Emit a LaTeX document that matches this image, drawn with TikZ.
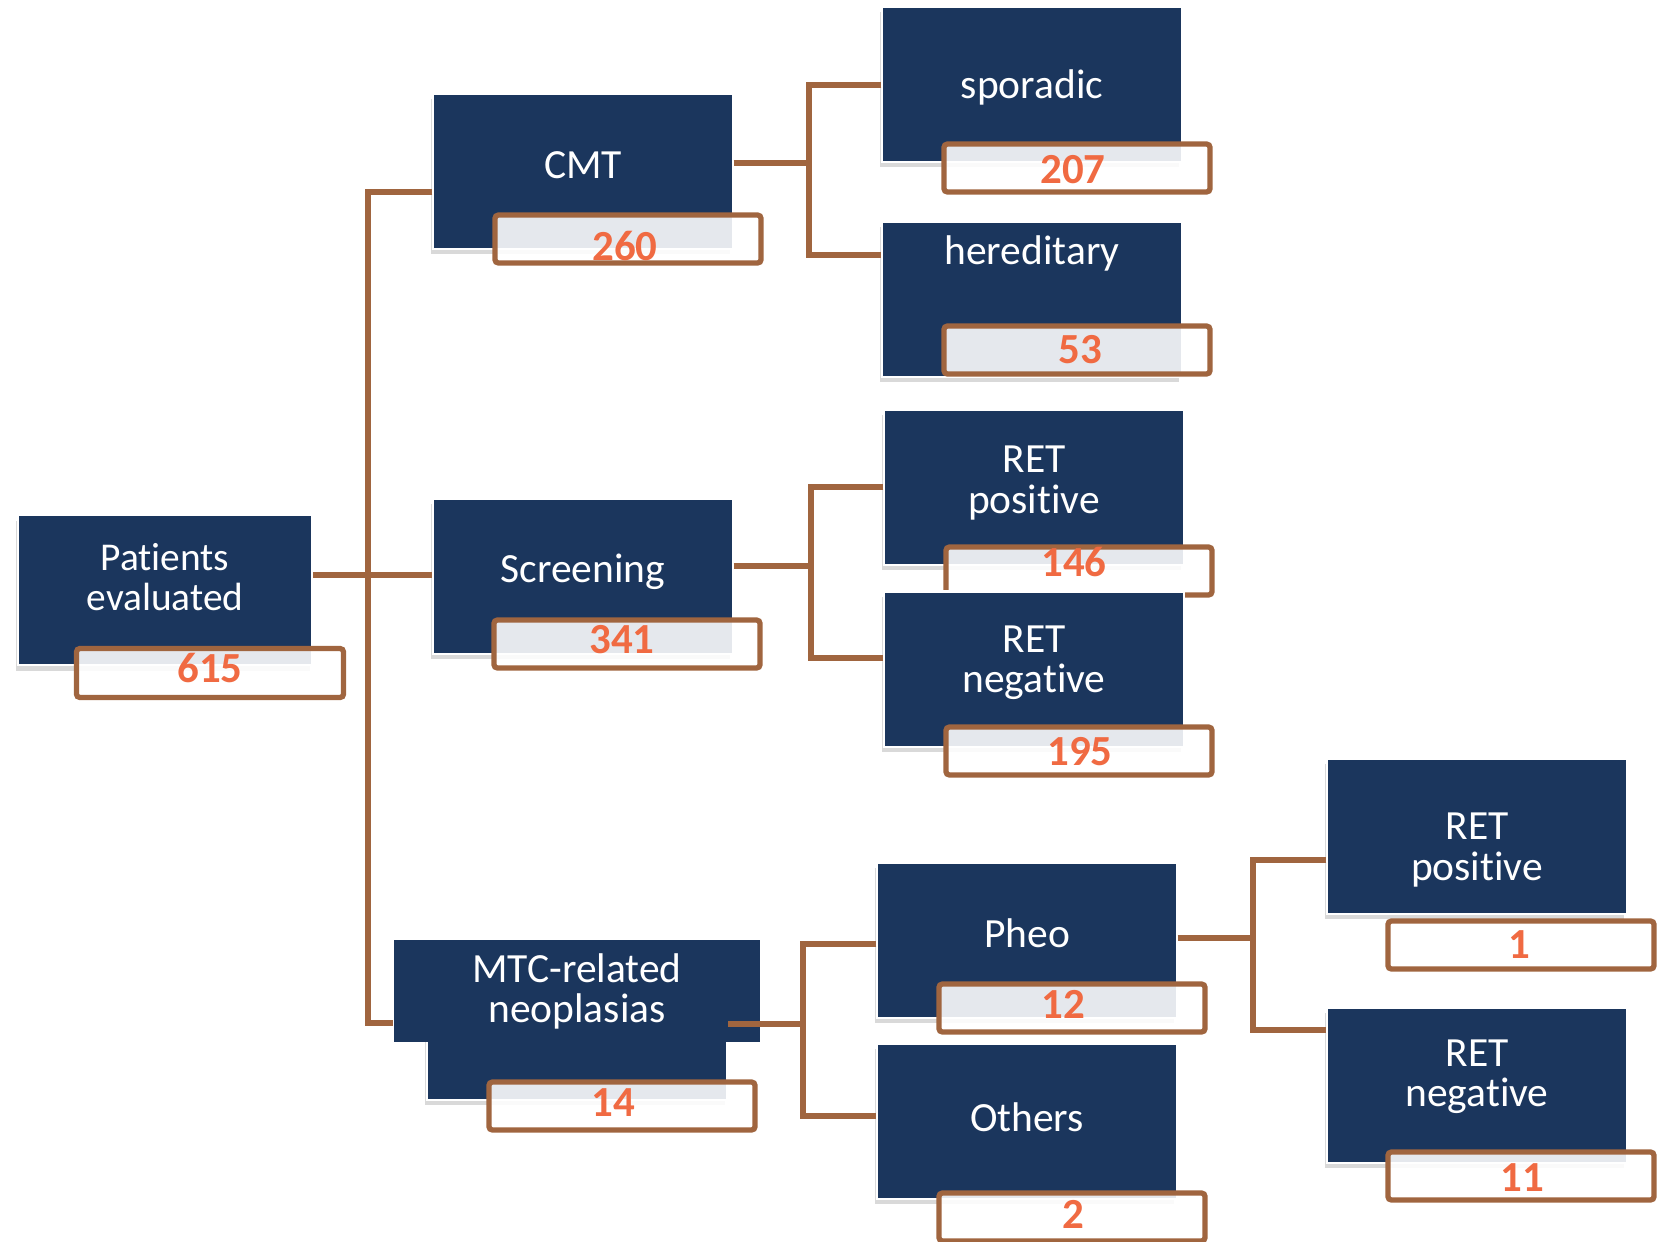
\documentclass[tikz,border=0pt]{standalone}
\usepackage{fontspec}
\setmainfont[Ligatures=NoCommon]{Carlito}
\usetikzlibrary{shadows}
\definecolor{navy}{RGB}{27,54,93}
\definecolor{rust}{RGB}{160,101,63}
\definecolor{coral}{RGB}{240,106,66}
\tikzset{
  panel/.style={draw=white,line width=0.6pt,fill=navy,inner sep=0pt,
    minimum width=2.99cm,minimum height=1.55cm,
    drop shadow={shadow xshift=-0.6pt,shadow yshift=-1.6pt,opacity=0.3}},
  slab/.style={fill=navy,inner sep=0pt,minimum width=3.66cm,minimum height=1.01cm},
  caption/.style={text=white,align=center,font=\fontsize{11.8}{11.4}\selectfont},
  tally/.style={draw=rust,line width=1.5pt,fill=white,fill opacity=0.89,
    rounded corners=1pt,inner sep=0pt,minimum width=2.66cm,minimum height=0.48cm},
  digits/.style={text=coral,inner sep=0pt,font=\fontsize{12.2}{12}\selectfont\bfseries},
  wire/.style={draw=rust,line width=1.6pt},
}
\begin{document}
\begin{tikzpicture}[x=0.01cm,y=-0.01cm]
  \useasboundingbox (0,0) rectangle (1662,1241);
  % first level
  \node[panel,minimum width=2.94cm,minimum height=1.5cm] (pat) at (165,590) {};
  \node[caption,font=\fontsize{11.2}{11.4}\selectfont] (pat-t) at (165,577) {Patients\\evaluated};
  \node[tally,minimum width=2.67cm,minimum height=0.49cm] (pat-n) at (210,673) {};
  \node[digits] (pat-v) at (210,668) {615};
  % second level
  \node[panel] (cmt) at (583,171) {};
  \node[caption] (cmt-t) at (583,165) {CMT};
  \node[tally] (cmt-n) at (628,239) {};
  \node[digits] (cmt-v) at (625,246) {260};
  \node[panel] (scr) at (583,576) {};
  \node[caption] (scr-t) at (583,572) {Screening};
  \node[tally] (scr-n) at (627,644) {};
  \node[digits] (scr-v) at (622,640) {341};
  \node[panel,minimum width=3cm,minimum height=1.59cm] (mtc) at (577,1020) {};
  \node[slab,caption] (mtc-t) at (577,991) {MTC-related\\neoplasias};
  \node[tally] (mtc-n) at (622,1106) {};
  \node[digits] (mtc-v) at (613,1103) {14};
  % third level
  \node[panel] (spor) at (1032,84) {};
  \node[caption] (spor-t) at (1032,87) {sporadic};
  \node[tally] (spor-n) at (1077,168) {};
  \node[digits] (spor-v) at (1073,170) {207};
  \node[panel] (here) at (1032,299) {};
  \node[caption] (here-t) at (1032,253) {hereditary};
  \node[tally] (here-n) at (1077,350) {};
  \node[digits] (here-v) at (1080,350) {53};
  \node[panel] (retp) at (1034,487) {};
  \node[caption] (retp-t) at (1034,483) {RET\\positive};
  \node[tally] (retp-n) at (1079,571) {};
  \node[digits] (retp-v) at (1074,562) {146};
  \node[panel] (retn) at (1034,669) {};
  \node[caption] (retn-t) at (1034,663) {RET\\negative};
  \node[tally] (retn-n) at (1079,751) {};
  \node[digits] (retn-v) at (1080,752) {195};
  \node[panel] (pheo) at (1027,940) {};
  \node[caption] (pheo-t) at (1027,933) {Pheo};
  \node[tally] (pheo-n) at (1072,1008) {};
  \node[digits] (pheo-v) at (1063,1004) {12};
  \node[panel] (oth) at (1027,1121) {};
  \node[caption] (oth-t) at (1027,1117) {Others};
  \node[tally] (oth-n) at (1072,1217) {};
  \node[digits] (oth-v) at (1073,1214) {2};
  % fourth level
  \node[panel] (pretp) at (1477,836) {};
  \node[caption] (pretp-t) at (1477,850) {RET\\positive};
  \node[tally] (pretp-n) at (1521,945) {};
  \node[digits] (pretp-v) at (1519,945) {1};
  \node[panel] (pretn) at (1477,1085) {};
  \node[caption] (pretn-t) at (1477,1077) {RET\\negative};
  \node[tally] (pretn-n) at (1521,1176) {};
  \node[digits] (pretn-v) at (1522,1178) {11};
  % connectors
  \coordinate (f0) at (368,575);
  \coordinate (f0a) at (368,192);
  \coordinate (f0b) at (368,1023);
  \draw[wire] (pat.east |- f0) -- (scr.west |- f0);
  \draw[wire] (cmt.west |- f0a) -- (f0a) -- (f0b) -- (mtc-t.west |- f0b);
  \coordinate (f1) at (809,163);
  \coordinate (f1a) at (809,85);
  \coordinate (f1b) at (809,255);
  \draw[wire] (cmt.east |- f1) -- (f1);
  \draw[wire] (spor.west |- f1a) -- (f1a) -- (f1b) -- (here.west |- f1b);
  \coordinate (f2) at (811,566);
  \coordinate (f2a) at (811,487);
  \coordinate (f2b) at (811,658);
  \draw[wire] (scr.east |- f2) -- (f2);
  \draw[wire] (retp.west |- f2a) -- (f2a) -- (f2b) -- (retn.west |- f2b);
  \coordinate (f3) at (803,1024);
  \coordinate (f3a) at (803,944);
  \coordinate (f3b) at (803,1116);
  \draw[wire] (mtc.east |- f3) -- (f3);
  \draw[wire] (pheo.west |- f3a) -- (f3a) -- (f3b) -- (oth.west |- f3b);
  \coordinate (f4) at (1253,938);
  \coordinate (f4a) at (1253,860);
  \coordinate (f4b) at (1253,1030);
  \draw[wire] (pheo.east |- f4) -- (f4);
  \draw[wire] (pretp.west |- f4a) -- (f4a) -- (f4b) -- (pretn.west |- f4b);
\end{tikzpicture}
\end{document}
